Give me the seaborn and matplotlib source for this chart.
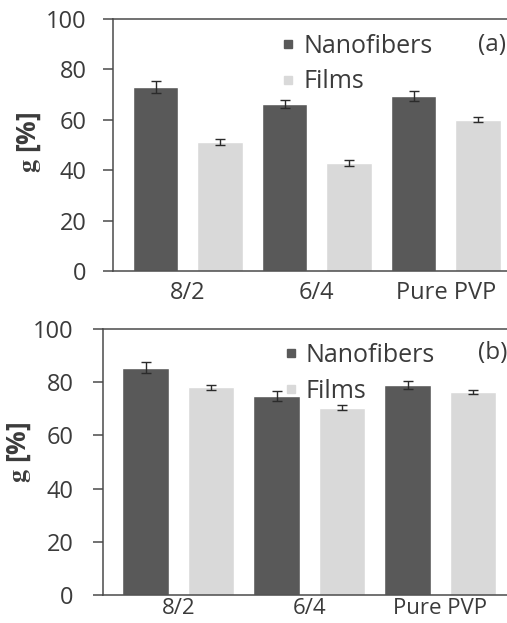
import matplotlib
matplotlib.use("Agg")
import matplotlib.pyplot as plt
from matplotlib.lines import Line2D
import seaborn as sns
import pandas as pd

# Blend ratios and swelling (g) results
categories = ["8/2", "6/4", "Pure PVP"]
series = ["Nanofibers", "Films"]

g_a_nanofibers = [73.0, 66.4, 69.4]
g_a_films = [51.2, 42.9, 60.1]
err_a_nanofibers = [2.2, 1.6, 1.9]
err_a_films = [1.2, 1.2, 0.9]

g_b_nanofibers = [85.5, 74.9, 78.9]
g_b_films = [78.1, 70.4, 76.3]
err_b_nanofibers = [2.0, 1.8, 1.6]
err_b_films = [1.0, 1.0, 0.7]

yticks = [0, 20, 40, 60, 80, 100]
colors = {"Nanofibers": "#595959", "Films": "#D9D9D9"}
text_color = "#3b3b3b"
axis_color = "#4a4a4a"

sns.set_theme(style="white")
plt.rcParams["font.family"] = ["Open Sans", "DejaVu Sans"]
plt.rcParams["mathtext.fontset"] = "stix"

W, H = 507, 623
fig = plt.figure(figsize=(W / 100, H / 100), dpi=100)


def px_axes(left, top, right, bottom):
    return fig.add_axes([left / W, 1 - bottom / H, (right - left) / W, (bottom - top) / H])


def panel(ax, nano, films, err_nano, err_films, xlim, label, xpad, ypad, xsize,
          ylab_xy, leg_xy, tag_xy):
    df = pd.DataFrame({
        "cat": categories * 2,
        "series": [series[0]] * 3 + [series[1]] * 3,
        "g": nano + films,
    })
    errs = {series[0]: err_nano, series[1]: err_films}
    sns.barplot(data=df, x="cat", y="g", hue="series", order=categories,
                hue_order=series, palette=colors, width=1.0, gap=0.29,
                errorbar=None, legend=False, saturation=1, ax=ax)
    for cont, s in zip(ax.containers, series):
        for bar in cont:
            xc = bar.get_x() + bar.get_width() / 2
            idx = int(round(xc))
            ax.errorbar(xc, bar.get_height(), yerr=errs[s][idx], fmt="none",
                        ecolor="#2b2b2b", elinewidth=1.0, capsize=3.5, capthick=1.0)
    ax.set_xlim(*xlim)
    ax.set_ylim(0, 100)
    ax.set_yticks(yticks)
    ax.set_xlabel("")
    ax.set_ylabel(r"$\mathbf{g}$ [%]", fontsize=19, fontweight="bold", color=text_color)
    ax.yaxis.set_label_coords(*ylab_xy)
    for sp in ["left", "bottom", "top"]:
        ax.spines[sp].set_visible(True)
        ax.spines[sp].set_color(axis_color)
        ax.spines[sp].set_linewidth(1.1)
    ax.spines["right"].set_visible(False)
    ax.tick_params(axis="y", which="major", left=True, direction="out", length=7,
                   width=1.1, color=axis_color, labelsize=17, labelcolor=text_color,
                   pad=ypad)
    ax.tick_params(axis="x", which="major", bottom=False, length=0, labelsize=xsize,
                   labelcolor=text_color, pad=xpad)
    handles = [Line2D([], [], marker="s", linestyle="none", markersize=6,
                      markerfacecolor=colors[s], markeredgecolor=colors[s]) for s in series]
    fig.legend(handles, series, loc="upper left",
               bbox_to_anchor=(leg_xy[0] / W, 1 - leg_xy[1] / H),
               frameon=False, fontsize=18, handlelength=0.6, handletextpad=0.32,
               labelspacing=0.42, borderaxespad=0, borderpad=0, labelcolor=text_color)
    fig.text(tag_xy[0] / W, 1 - tag_xy[1] / H, label, fontsize=17.5, color=text_color,
             ha="left", va="center")


ax_a = px_axes(113, 19, 507, 271)
panel(ax_a, g_a_nanofibers, g_a_films, err_a_nanofibers, err_a_films,
      (-0.58, 2.474), "(a)", 7, 12, 17, (-0.178, 0.512), (280, 34), (478, 45))

ax_b = px_axes(103, 329, 507, 595)
panel(ax_b, g_b_nanofibers, g_b_films, err_b_nanofibers, err_b_films,
      (-0.576, 2.508), "(b)", 2, 14, 16, (-0.173, 0.538), (283, 343), (478, 353))

fig.savefig("out.png", dpi=100)
